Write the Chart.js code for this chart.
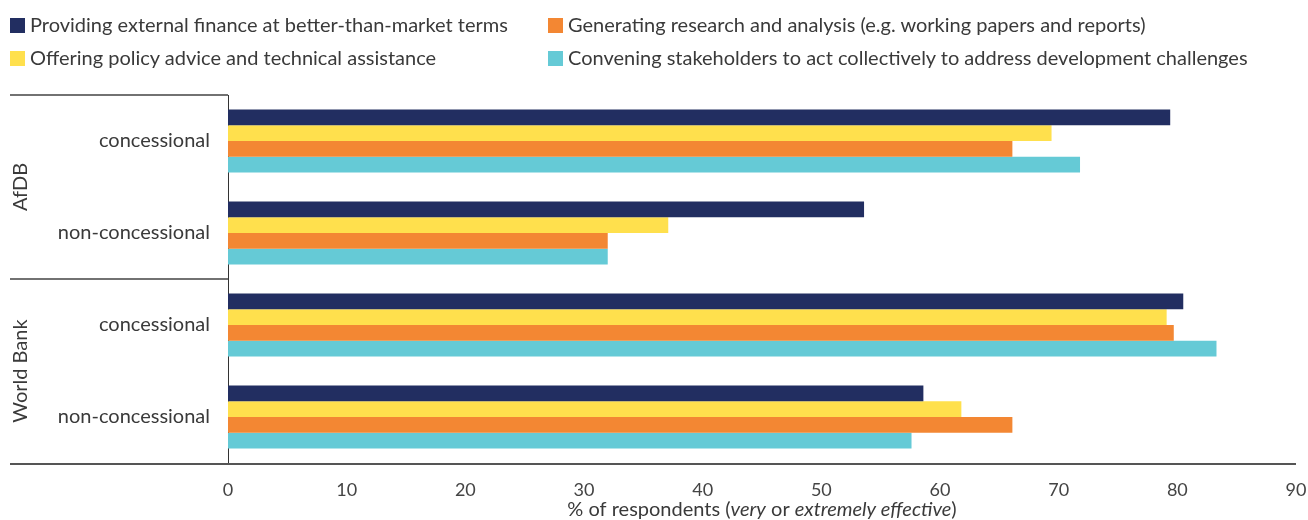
<!DOCTYPE html>
<html>
<head>
<meta charset="utf-8">
<script src="https://cdn.jsdelivr.net/npm/chart.js@4.4.1/dist/chart.umd.min.js"></script>
<style>
  html, body { margin: 0; padding: 0; background: #fff; }
  #wrap { position: relative; width: 1308px; height: 520px; font-family: Lato, sans-serif; color: #3a3a3a; }
  #chart { position: absolute; left: 0; top: 0; }
  .leg { position: absolute; font-size: 20px; line-height: 22px; white-space: nowrap; }
  .leg span { display: inline-block; width: 15px; height: 15px; margin-right: 5px; vertical-align: -1px; }
</style>
</head>
<body>
<div id="wrap">
  <canvas id="chart" width="1308" height="520"></canvas>
  <div id="legend"></div>
</div>
<script>
// categories (institution / lending type)
var groups = ['AfDB', 'World Bank'];
var categories = ['concessional', 'non-concessional', 'concessional', 'non-concessional'];

var seriesNames = [
  'Providing external finance at better-than-market terms',
  'Offering policy advice and technical assistance',
  'Generating research and analysis (e.g. working papers and reports)',
  'Convening stakeholders to act collectively to address development challenges'
];
var seriesColors = ['#222e61', '#ffe04d', '#f38733', '#65cad6'];

// % of respondents rating very or extremely effective
var finance  = [79.4, 53.6, 80.5, 58.6];
var advice   = [69.4, 37.1, 79.1, 61.8];
var research = [66.1, 32.0, 79.7, 66.1];
var convene  = [71.8, 32.0, 83.3, 57.6];

var xTicks = [0, 10, 20, 30, 40, 50, 60, 70, 80, 90];

// legend in two columns, as in the picture
var legendPos = [[10, 13], [10, 46], [548, 13], [548, 46]];
var legendHtml = '';
seriesNames.forEach(function (name, i) {
  legendHtml += '<div class="leg" style="left:' + legendPos[i][0] + 'px;top:' + legendPos[i][1] + 'px">' +
    '<span style="background:' + seriesColors[i] + '"></span>' + name + '</div>';
});
document.getElementById('legend').innerHTML = legendHtml;

var font = 'Lato, sans-serif';

var framePlugin = {
  id: 'frame',
  afterDraw: function (chart) {
    var c = chart.ctx;
    var area = chart.chartArea;
    var y = chart.scales.y;
    var mid = y.getPixelForValue(1.5);
    c.save();
    c.strokeStyle = '#444';
    c.lineWidth = 1.5;
    c.beginPath();
    c.moveTo(10, area.top); c.lineTo(area.left, area.top);
    c.moveTo(10, mid); c.lineTo(area.left, mid);
    c.stroke();
    c.lineWidth = 2;
    c.strokeStyle = '#555';
    c.beginPath();
    c.moveTo(10, area.bottom + 1); c.lineTo(area.right, area.bottom + 1);
    c.stroke();

    // group labels
    c.fillStyle = '#3a3a3a';
    c.font = '20px ' + font;
    c.textAlign = 'center';
    c.textBaseline = 'middle';
    var bounds = [[area.top, mid], [mid, area.bottom]];
    groups.forEach(function (g, i) {
      c.save();
      c.translate(21, (bounds[i][0] + bounds[i][1]) / 2);
      c.rotate(-Math.PI / 2);
      c.fillText(g, 0, 0);
      c.restore();
    });

    // axis title with italic parts
    var parts = [
      ['% of respondents (', 'normal'],
      ['very', 'italic'],
      [' or ', 'normal'],
      ['extremely effective', 'italic'],
      [')', 'normal']
    ];
    var total = 0;
    parts.forEach(function (p) {
      c.font = p[1] + ' 20px ' + font;
      total += c.measureText(p[0]).width;
    });
    var x0 = (area.left + area.right) / 2 - total / 2;
    c.textAlign = 'left';
    parts.forEach(function (p) {
      c.font = p[1] + ' 20px ' + font;
      c.fillText(p[0], x0, 510);
      x0 += c.measureText(p[0]).width;
    });
    c.restore();
  }
};

function makeSet(label, data, color) {
  return { label: label, data: data, backgroundColor: color, borderWidth: 0 };
}

new Chart(document.getElementById('chart'), {
  type: 'bar',
  data: {
    labels: categories,
    datasets: [
      makeSet(seriesNames[0], finance, seriesColors[0]),
      makeSet(seriesNames[1], advice, seriesColors[1]),
      makeSet(seriesNames[2], research, seriesColors[2]),
      makeSet(seriesNames[3], convene, seriesColors[3])
    ]
  },
  options: {
    indexAxis: 'y',
    responsive: false,
    animation: false,
    layout: { padding: { top: 95, right: 0, left: 0, bottom: 0 } },
    categoryPercentage: 0.685,
    barPercentage: 1.0,
    plugins: { legend: { display: false }, tooltip: { enabled: false } },
    scales: {
      x: {
        min: 0,
        max: 90,
        afterBuildTicks: function (scale) {
          scale.ticks = xTicks.map(function (v) { return { value: v }; });
        },
        afterFit: function (scale) {
          scale.height = 57;
          scale.paddingRight = 12;
        },
        grid: { display: false, drawTicks: false },
        border: { display: false },
        ticks: { color: '#444', font: { family: font, size: 18 }, padding: 16 }
      },
      y: {
        afterFit: function (scale) { scale.width = 228; },
        grid: { display: false, drawTicks: false },
        border: { display: true, color: '#333', width: 1 },
        ticks: { color: '#3a3a3a', font: { family: font, size: 20 }, padding: 18 }
      }
    }
  },
  plugins: [framePlugin]
});
</script>
</body>
</html>
